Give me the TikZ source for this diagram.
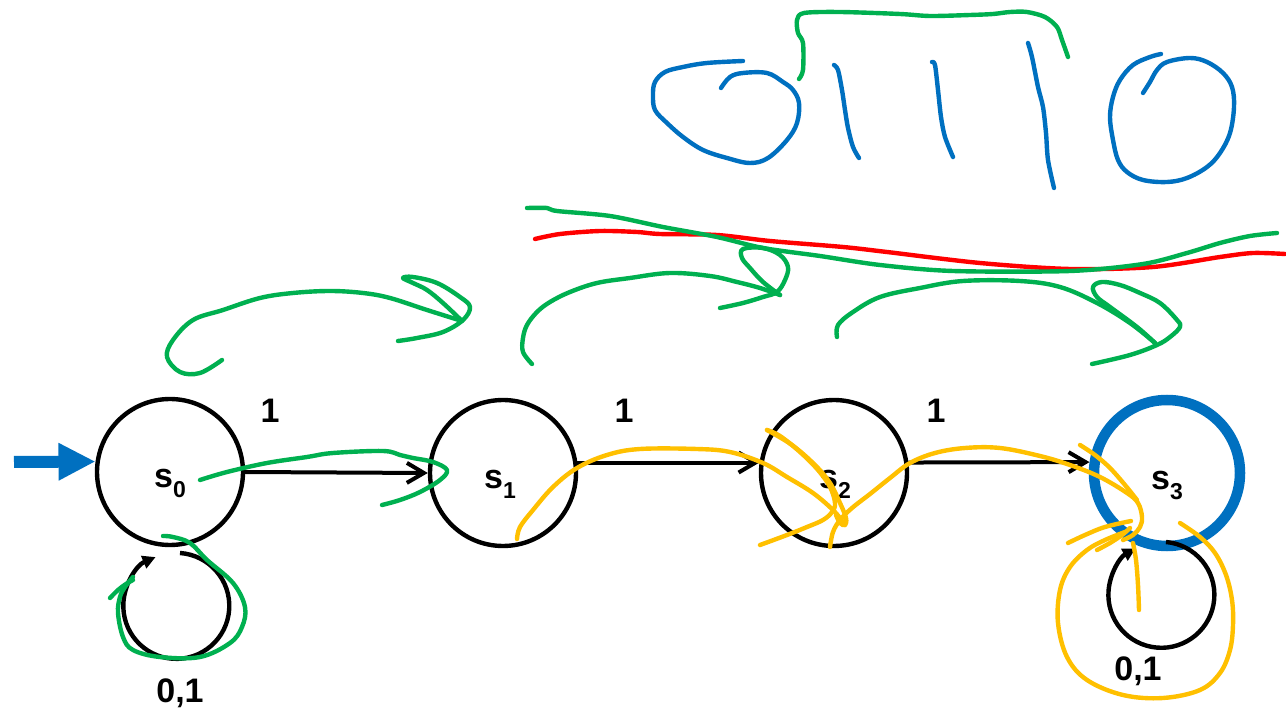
\documentclass[tikz,border=0pt]{standalone}
\usepackage{fontspec}
\setmainfont{Liberation Sans}
\usetikzlibrary{arrows.meta,calc}
\definecolor{inkblue}{HTML}{0070C0}
\definecolor{inkgreen}{HTML}{00B050}
\definecolor{inkred}{HTML}{FF0000}
\definecolor{inkyellow}{HTML}{FFC000}
\newcommand\stsub[1]{\raisebox{-10pt}{\fontsize{23}{24}\selectfont #1}}
\tikzset{
  statenode/.style={circle, draw=black, line width=4.4pt, minimum size=146pt, inner sep=0pt},
  acceptnode/.style={circle, draw=inkblue, line width=10.5pt, minimum size=146pt, inner sep=0pt},
  statelbl/.style={font=\fontsize{34}{36}\selectfont\bfseries, inner sep=0pt},
  edgelbl/.style={font=\fontsize{34}{36}\selectfont\bfseries, inner sep=0pt, anchor=base},
  edgeline/.style={line width=4pt, -{Straight Barb[length=17pt,width=20pt]}},
  loopline/.style={line width=4.4pt, -{Triangle[length=13pt,width=13pt]}},
  initline/.style={draw=inkblue, line width=12pt, -{Triangle[length=37pt,width=35pt]}},
  ink/.style={line width=4.4pt, line cap=round, line join=round},
  gink/.style={ink, draw=inkgreen},
  bink/.style={ink, draw=inkblue},
  rink/.style={ink, draw=inkred},
  yink/.style={ink, draw=inkyellow},
}
\begin{document}
\begin{tikzpicture}[x=1pt, y=-1pt]
\useasboundingbox[fill=white] (0,0) rectangle (1286,708);

% states
\node[statenode, label={[statelbl, xshift=0pt, yshift=-11pt]center:{s\stsub{0}}}] (s0) at (170,472) {};
\node[statenode, label={[statelbl, xshift=-3pt, yshift=-11pt]center:{s\stsub{1}}}] (s1) at (503,473) {};
\node[statenode, label={[statelbl, xshift=1pt, yshift=-11pt]center:{s\stsub{2}}}] (s2) at (834,473) {};
\node[acceptnode, label={[statelbl, xshift=0pt, yshift=-12pt]center:{s\stsub{3}}}] (s3) at (1167,473) {};

% initial arrow
\coordinate (init) at (14,462);
\draw[initline] (init) -- (s0.172);

% transitions
\draw[edgeline] (s0.east) -- (s1.west);
\draw[edgeline] (s1.8) -- (s2.172);
\draw[edgeline] (s2.8) -- (s3.172);
\node[edgelbl] (l01) at (270,423) {1};
\node[edgelbl] (l12) at (624,423) {1};
\node[edgelbl] (l23) at (936,423) {1};

% self loops
\coordinate (loop0) at (180,553);
\draw[loopline] (loop0) arc[start angle=-86, end angle=247, radius=53];
\node[edgelbl] (l00) at (180,702) {0,1};
\coordinate (loop3) at (1166,542);
\draw[loopline] (loop3) arc[start angle=-85, end angle=241, radius=53];
\node[edgelbl] (l33) at (1138,680) {0,1};

% ---- freehand ink: top ----
\draw[bink] plot[smooth, tension=0.6] coordinates {(743,61) (707,63) (683,67) (665,72) (655,82) (653,95) (655,110) (667,123) (683,137) (703,150) (727,158) (750,163) (768,158) (787,140) (797,123) (799,103) (793,90) (783,82) (767,73) (743,73) (730,77) (721,88)};
\draw[gink] plot[smooth, tension=0.5] coordinates {(799,79) (803,70) (803,43) (798,33) (797,20) (804,13) (840,12) (900,14) (930,16) (970,15) (993,14) (1010,12) (1027,12) (1045,17) (1057,27) (1062,40) (1068,57)};
\draw[bink] plot[smooth, tension=0.5] coordinates {(834,65) (838,70) (842,90) (845,110) (848,128) (853,147) (859,158)};
\draw[bink] plot[smooth, tension=0.5] coordinates {(932,62) (935,65) (938,90) (941,117) (945,137) (953,157)};
\draw[bink] plot[smooth, tension=0.5] coordinates {(1028,43) (1032,57) (1038,87) (1043,107) (1046,133) (1048,160) (1054,188)};
\draw[bink] plot[smooth, tension=0.6] coordinates {(1161,54) (1150,57) (1133,65) (1120,80) (1113,97) (1110,117) (1113,140) (1118,160) (1127,172) (1143,180) (1167,182) (1187,178) (1207,167) (1220,153) (1230,133) (1234,107) (1232,87) (1223,73) (1207,62) (1190,58) (1167,62) (1157,70) (1150,82) (1143,93)};

% ---- freehand ink: middle lines ----
\draw[rink] plot[smooth, tension=0.5] coordinates {(535,239) (560,234) (600,231) (637,232) (660,234) (717,235) (770,241) (843,247) (887,252) (980,263) (1070,269) (1153,267) (1220,257) (1253,253) (1285,254)};
\draw[gink] plot[smooth, tension=0.5] coordinates {(527,208) (547,208) (557,211) (610,216) (663,227) (717,237) (763,248) (820,256) (880,265) (953,271) (1070,271) (1143,264) (1187,253) (1220,243) (1250,236) (1277,233)};

% ---- green arcs ----
\draw[gink] plot[smooth, tension=0.6] coordinates {(222,360) (200,373) (180,372) (167,357) (173,340) (193,320) (223,310) (260,298) (293,293) (330,291) (363,293) (390,298) (427,310) (462,321)};
\draw[gink] plot[smooth, tension=0.6] coordinates {(462,321) (443,303) (427,290) (413,283) (403,278) (413,277) (437,283) (460,297) (470,307) (463,320) (443,332) (417,338) (398,341)};
\draw[gink] plot[smooth, tension=0.6] coordinates {(532,364) (523,352) (523,338) (527,325) (537,312) (550,302) (570,292) (597,283) (630,278) (670,273) (710,276) (737,282) (760,288) (780,295)};
\draw[gink] plot[smooth, tension=0.6] coordinates {(780,295) (763,282) (750,268) (742,258) (743,249) (763,248) (780,255) (788,267) (785,280) (777,292) (763,297) (743,303) (720,308)};
\draw[gink] plot[smooth, tension=0.6] coordinates {(837,337) (838,325) (853,312) (880,297) (920,288) (963,281) (1020,281) (1060,287) (1097,303) (1130,323) (1155,343)};
\draw[gink] plot[smooth, tension=0.6] coordinates {(1155,343) (1137,327) (1110,307) (1097,297) (1093,287) (1102,282) (1120,285) (1140,293) (1160,303) (1177,320) (1180,327) (1170,337) (1157,345) (1130,355) (1092,364)};

% ---- green at s0 ----
\draw[gink] plot[smooth, tension=0.6] coordinates {(200,480) (227,472) (267,463) (307,457) (333,453) (383,451) (400,455) (413,458) (433,462) (447,470) (440,480) (420,492) (400,500) (382,505)};
\draw[gink] plot[smooth, tension=0.6] coordinates {(163,536) (173,537) (190,543) (207,560) (233,583) (245,607) (242,627) (230,643) (200,657) (160,657) (133,650) (123,637) (118,613) (120,597) (125,587) (133,577)};
\draw[gink] plot[smooth, tension=0.6] coordinates {(110,598) (118,590) (126,584) (133,580)};

% ---- yellow ink ----
\draw[yink] plot[smooth, tension=0.6] coordinates {(517,539) (520,527) (533,510) (553,487) (577,468) (607,455) (640,449) (697,449) (730,452) (763,463) (787,477) (813,493) (833,510) (843,522) (845,525)};
\draw[yink] plot[smooth, tension=0.6] coordinates {(767,430) (780,436) (800,452) (818,470) (830,487) (835,503) (832,512) (823,520) (807,527) (787,535) (760,545)};
\draw[yink] plot[smooth, tension=0.6] coordinates {(767,430) (792,445) (815,465) (830,483) (840,503) (846,518) (845,525) (840,523) (836,515)};
\draw[yink] plot[smooth, tension=0.6] coordinates {(830,547) (833,532) (840,520) (852,508) (870,494) (890,478) (910,463) (935,453) (965,448) (1000,448) (1040,456) (1070,465) (1100,477) (1127,493) (1138,503) (1142,517) (1140,527) (1133,535) (1123,540)};
\draw[yink] plot[smooth, tension=0.6] coordinates {(1080,445) (1095,455) (1110,468) (1125,485) (1137,500)};
\draw[yink] plot[smooth, tension=0.6] coordinates {(1131,521) (1105,527) (1085,535) (1068,543)};
\draw[yink] plot[smooth, tension=0.6] coordinates {(1097,550) (1110,543) (1122,535) (1130,528)};
\draw[yink] plot[smooth, tension=0.6] coordinates {(1133,543) (1136,560) (1138,585) (1139,610)};
\draw[yink] plot[smooth, tension=0.6] coordinates {(1180,523) (1200,537) (1215,553) (1226,575) (1232,600) (1233,625) (1230,650) (1220,673) (1200,690) (1163,698) (1123,695) (1087,680) (1067,657) (1058,623) (1060,590) (1070,567) (1087,550) (1105,540) (1125,532)};
\end{tikzpicture}
\end{document}
